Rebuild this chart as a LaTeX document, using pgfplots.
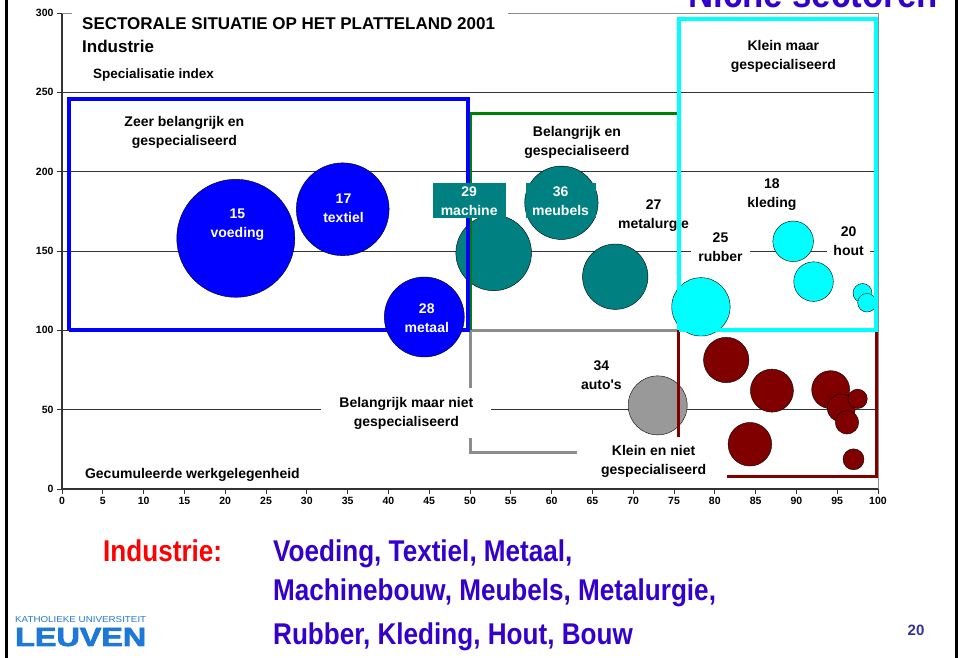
\documentclass[border=0pt]{standalone}
\usepackage{graphicx}
\usepackage{fontspec}
\setmainfont{Liberation Sans}
\newfontfamily\narrowfont[FakeStretch=0.87]{Liberation Sans}
\newfontfamily\heavyfont[FakeBold=2.5]{Liberation Sans}
\usepackage{pgfplots}
\usepackage{pgfplotstable}
\pgfplotsset{compat=1.18}

\definecolor{bubblue}{HTML}{0000FF}
\definecolor{bubteal}{HTML}{008080}
\definecolor{bubcyan}{HTML}{00FFFF}
\definecolor{bubred}{HTML}{800000}
\definecolor{bubgray}{HTML}{999999}
\definecolor{boxgreen}{HTML}{008000}
\definecolor{boxgray}{HTML}{8C8C8C}
\definecolor{slideblue}{HTML}{3300CC}
\definecolor{logoblue}{HTML}{1E78D7}
\definecolor{pagenum}{HTML}{333399}

\newcommand\lab{\bfseries\fontsize{14}{19}\selectfont}
\newcommand\slide{\narrowfont\bfseries\fontsize{30}{34}\selectfont}

% x = share of employment (cumulative), y = specialisation index, r = bubble radius
\pgfplotstableread{
x y r
21.3 158.0 59
34.4 176.3 46.4
44.4 108.4 40
}\bluedata
\pgfplotstableread{
x y r
52.9 148.8 37.8
61.2 180.4 36.7
67.8 133.8 32.7
}\tealdata
\pgfplotstableread{
x y r
78.3 114.8 29.2
89.6 156.1 20.3
92.1 130.7 19.8
98.1 123.5 9.5
98.65 117.4 9.3
}\cyandata
\pgfplotstableread{
x y r
81.4 81.3 22.7
87.0 62.0 21.5
94.2 62.6 19
95.5 51.0 14
97.5 56.8 9.7
96.2 42.0 11.7
84.3 28.2 21.8
97.0 18.7 10.5
}\reddata
\pgfplotstableread{
x y r
73.0 52.7 29.5
}\graydata

\pgfplotsset{
  bubble/.style={scatter, only marks, mark=*,
    point meta=\thisrow{r},
    scatter/use mapped color={draw=black, fill=#1},
    visualization depends on={\thisrow{r} \as \rr},
    scatter/@pre marker code/.append style={/tikz/mark size=\rr, /tikz/line width=0.8pt}},
}

\begin{document}
\begin{tikzpicture}[x=1pt, y=1pt]
\useasboundingbox (0,0) rectangle (964,658);

\begin{axis}[
  at={(62pt,169pt)}, anchor=south west,
  scale only axis, width=816pt, height=476pt,
  xmin=0, xmax=100, ymin=0, ymax=300,
  axis x line*=bottom, axis y line*=left,
  axis line style={black!80, line width=1.3pt},
  xtick={0,5,...,100}, ytick={0,50,...,300},
  tick align=outside, major tick length=5pt,
  tick style={black!80, line width=0.8pt},
  tick label style={font=\bfseries\fontsize{10.5}{12}\selectfont},
  /pgf/number format/assume math mode=true,
  extra y ticks={50,100,150,200,250}, extra y tick labels={},
  extra y tick style={grid=major, major tick length=0pt},
  grid style={black!80, line width=0.7pt},
  clip=false, clip marker paths=true,
]
\draw[black!45, line width=0.8pt] (axis cs:0,300) -- (axis cs:100,300) -- (axis cs:100,0);

\addplot[bubble=bubteal] table {\tealdata};
\addplot[bubble=bubcyan] table {\cyandata};
\addplot[bubble=bubred] table {\reddata};
\addplot[bubble=bubgray] table {\graydata};

% quadrant frames
\addplot[boxgray, line width=3pt, no marks] coordinates {(75.5,100) (50,100) (50,23.3) (63.1,23.3)};
\addplot[boxgreen, line width=3pt, no marks] coordinates {(50,100) (50,236.8) (75.6,236.8) (75.6,100)};
\addplot[bubred, line width=3pt, no marks] coordinates {(75.5,100) (99.8,100) (99.8,7.6) (75.5,7.6) (75.5,100)};

\node[font=\lab, align=center] at (axis cs:15.0,225.0) {Zeer belangrijk en\\gespecialiseerd};
\node[font=\lab, align=center] at (axis cs:63.1,218.7) {Belangrijk en\\gespecialiseerd};
\node[font=\lab, align=center] at (axis cs:88.4,272.6) {Klein maar\\gespecialiseerd};
\node[font=\lab, align=center, fill=white, inner xsep=18pt, inner ysep=9pt] at (axis cs:42.2,47.9) {Belangrijk maar niet\\gespecialiseerd};
\node[font=\lab, align=center, fill=white, inner xsep=21pt, inner ysep=9pt] at (axis cs:72.5,17.1) {Klein en niet\\gespecialiseerd};
\node[font=\lab, anchor=base west, inner sep=0pt] at (axis cs:2.8,6.9) {Gecumuleerde werkgelegenheid};
\node[font=\lab, align=center] at (axis cs:66.1,71.7) {34\\auto\textquotesingle s};
\node[font=\lab, align=center, fill=white, inner sep=1pt] at (axis cs:72.5,172.1) {27\\metalurgie};
\node[font=\lab, align=center] at (axis cs:87.0,185.7) {18\\kleding};
\node[font=\lab, align=center, fill=white, inner xsep=7pt, inner ysep=1pt] at (axis cs:80.7,152.5) {25\\rubber};
\node[font=\lab, align=center, fill=white, inner xsep=6pt, inner ysep=1pt] at (axis cs:96.4,156.2) {20\\hout};

\addplot[bubcyan, line width=4pt, no marks] coordinates {(75.6,100) (75.6,296.2) (99.8,296.2) (99.8,100) (75.6,100)};
\addplot[bubblue, line width=4pt, no marks] coordinates {(0.8,100) (0.8,246) (49.8,246) (49.8,100) (0.8,100)};

\addplot[bubble=bubblue] table {\bluedata};

\node[font=\lab, text=white, align=center] at (axis cs:21.5,166.5) {15\\voeding};
\node[font=\lab, text=white, align=center] at (axis cs:34.5,176.7) {17\\textiel};
\node[font=\lab, text=white, align=center] at (axis cs:44.7,107.8) {28\\metaal};
\node[font=\lab, text=white, align=center, fill=bubteal, minimum width=73pt, minimum height=35pt, inner sep=0pt] at (axis cs:49.9,181.6) {29\\machine};
\node[font=\lab, text=white, align=center, fill=bubteal, minimum width=70pt, minimum height=35pt, inner sep=0pt] at (axis cs:61.1,181.6) {36\\meubels};
\end{axis}

% chart title block
\fill[white] (72,600) rectangle (508,650);
\node[anchor=base west, inner sep=0pt, font=\bfseries\fontsize{17}{20}\selectfont] at (82,628) {SECTORALE SITUATIE OP HET PLATTELAND 2001};
\node[anchor=base west, inner sep=0pt, font=\bfseries\fontsize{17}{20}\selectfont] at (82,605) {Industrie};
\node[anchor=base west, inner sep=0pt, font=\bfseries\fontsize{13.5}{16}\selectfont] at (93,579) {Specialisatie index};

% slide text
\node[anchor=base west, inner sep=0pt, font=\narrowfont\bfseries\fontsize{40}{44}\selectfont, text=slideblue] at (688,650) {Niche sectoren};
\node[anchor=base west, inner sep=0pt, font=\slide, text=red] at (103,96) {Industrie:};
\node[anchor=base west, inner sep=0pt, font=\slide, text=slideblue] at (273,96) {Voeding, Textiel, Metaal,};
\node[anchor=base west, inner sep=0pt, font=\slide, text=slideblue] at (273,57) {Machinebouw, Meubels, Metalurgie,};
\node[anchor=base west, inner sep=0pt, font=\slide, text=slideblue] at (273,13) {Rubber, Kleding, Hout, Bouw};
\node[inner sep=0pt, font=\bfseries\fontsize{15}{17}\selectfont, text=pagenum] at (916,28) {20};

\node[anchor=base west, inner sep=0pt, text=logoblue] at (15,35) {\resizebox{131pt}{6pt}{KATHOLIEKE UNIVERSITEIT}};
\node[anchor=base west, inner sep=0pt, text=logoblue] at (15,12) {\resizebox{131pt}{18pt}{\heavyfont\bfseries LEUVEN}};

\draw[black, line width=2.5pt] (6.5,0) -- (6.5,658);
\draw[black, line width=2.5pt] (956.5,0) -- (956.5,658);
\end{tikzpicture}
\end{document}
